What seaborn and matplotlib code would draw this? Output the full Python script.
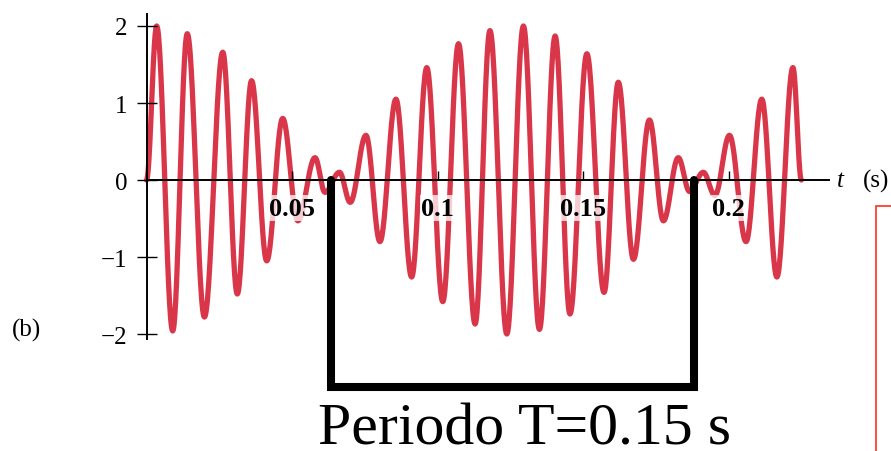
import numpy as np
import matplotlib
matplotlib.use("Agg")
import matplotlib.pyplot as plt
import seaborn as sns
from matplotlib.patches import Rectangle

# extrema of the beat signal (time in s, amplitude)
peak_t = [0.0, 0.0035, 0.009, 0.014, 0.0199, 0.0262, 0.0312, 0.0361, 0.0413, 0.0468,
          0.052, 0.0579, 0.0613, 0.0663, 0.070, 0.0754, 0.0802, 0.0857, 0.0911, 0.0963,
          0.1018, 0.1072, 0.1129, 0.118, 0.1238, 0.1295, 0.135, 0.1404, 0.1455, 0.1513,
          0.1572, 0.1621, 0.1673, 0.1728, 0.1776, 0.1827, 0.1866, 0.1913, 0.1953, 0.2003,
          0.206, 0.2114, 0.2166, 0.2221, 0.225]
peak_v = [0.0, 2.0, -1.96, 1.9, -1.78, 1.66, -1.48, 1.29, -1.05, 0.80,
          -0.53, 0.29, -0.16, 0.10, -0.29, 0.58, -0.80, 1.05, -1.26, 1.46,
          -1.58, 1.77, -1.87, 1.94, -2.0, 2.0, -1.94, 1.87, -1.74, 1.64,
          -1.46, 1.27, -1.03, 0.78, -0.53, 0.29, -0.15, 0.10, -0.2, 0.58,
          -0.80, 1.05, -1.26, 1.46, 0.0]

x_ticks = [0.05, 0.1, 0.15, 0.2]
x_labels = ["0.05", "0.1", "0.15", "0.2"]
y_ticks = [-2, -1, 0, 1, 2]

# marked period (bracket ends)
period_start = 0.0634
period_end = 0.1881
period_label = "Periodo T=0.15 s"

sns.set_style("white")
plt.rcParams["font.family"] = ["Liberation Serif", "DejaVu Serif"]
plt.rcParams["text.color"] = "black"
plt.rcParams["xtick.color"] = "black"
plt.rcParams["ytick.color"] = "black"

# smooth curve: half-cosine between consecutive extrema
tt, vv = [], []
for i in range(len(peak_t) - 1):
    s = np.linspace(0, 1, 30, endpoint=False)
    a, b = peak_v[i], peak_v[i + 1]
    tt.extend(peak_t[i] + s * (peak_t[i + 1] - peak_t[i]))
    vv.extend((a + b) / 2 + (a - b) / 2 * np.cos(np.pi * s))
tt.append(peak_t[-1])
vv.append(peak_v[-1])

fig = plt.figure(figsize=(8.91, 4.52), dpi=100)
ax = fig.add_axes([0, 0, 1, 1])
ax.set_xlim(-0.05034, 0.2558)
ax.set_ylim(-3.519, 2.3506)
ax.set_axisbelow(False)

sns.lineplot(x=tt, y=vv, ax=ax, color="#da364a", lw=3.8, sort=False,
             solid_capstyle="round")

for side in ["top", "right"]:
    ax.spines[side].set_visible(False)
ax.spines["left"].set_position(("data", 0))
ax.spines["bottom"].set_position(("data", 0))
ax.spines["left"].set_bounds(-2.06, 2.16)
ax.spines["bottom"].set_bounds(0, 0.2345)
for side in ["left", "bottom"]:
    ax.spines[side].set_linewidth(1.4)
    ax.spines[side].set_color("black")

ax.set_xticks(x_ticks)
ax.set_xticklabels(x_labels, fontweight="bold", fontsize=19)
ax.set_yticks(y_ticks)
ax.set_yticklabels([str(v).replace("-", "\u2212") for v in y_ticks], fontsize=18)
ax.tick_params(axis="x", bottom=True, direction="in", length=6.5, width=1.0,
               pad=12, colors="black")
ax.tick_params(axis="y", left=True, direction="inout", length=15, width=1.0,
               pad=6.5, colors="black")
for lbl in ax.get_xticklabels():
    lbl.set_bbox(dict(boxstyle="square,pad=0.05", fc="white", ec="none", alpha=0.75))
ax.set_xlabel("")
ax.set_ylabel("")

# axis name
ax.text(0.2373, 0, "t", style="italic", fontsize=18, va="center", ha="left")
ax.text(0.2462, 0, "(s)", fontsize=18, va="center", ha="left")

# period bracket
ax.plot([period_start, period_start, period_end, period_end], [0, -2.69, -2.69, 0],
        color="black", lw=5.8, solid_joinstyle="miter", clip_on=False, zorder=3)

fig.text(525 / 891, 7 / 452, period_label, fontsize=43, ha="center", va="baseline")
fig.text(12 / 891, 1 - 330 / 452, "(b)", fontsize=18, ha="left", va="center")

fig.patches.append(Rectangle((876 / 891, -0.1), 0.2, 1.1 - 207 / 452,
                             transform=fig.transFigure, fill=False,
                             edgecolor="#ff3020", lw=1.2))

fig.savefig("out.png", dpi=100)
